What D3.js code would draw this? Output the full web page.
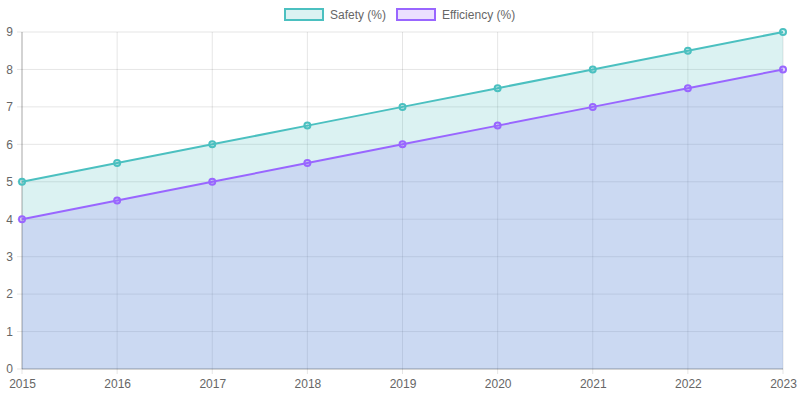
<!DOCTYPE html>
<html>
<head>
<meta charset="utf-8">
<style>
  body { margin: 0; background: #fff; }
  svg { display: block; font-family: 'Liberation Sans', Arial, sans-serif; }
  .tick text { fill: #666; font-size: 12px; }
</style>
</head>
<body>
<svg width="800" height="400"></svg>
<script src="https://d3js.org/d3.v7.min.js"></script>
<script>
// data
const years = [2015, 2016, 2017, 2018, 2019, 2020, 2021, 2022, 2023];
const safety = [5, 5.5, 6, 6.5, 7, 7.5, 8, 8.5, 9];
const efficiency = [4, 4.5, 5, 5.5, 6, 6.5, 7, 7.5, 8];
const yTicks = [0, 1, 2, 3, 4, 5, 6, 7, 8, 9];

const series = [
  { name: "Safety (%)", values: safety, line: "rgb(75,192,192)", fill: "rgba(75,192,192,0.2)" },
  { name: "Efficiency (%)", values: efficiency, line: "rgb(153,102,255)", fill: "rgba(153,102,255,0.2)" }
];

const width = 800, height = 400;
const margin = { top: 32, right: 17, bottom: 31, left: 22 };

const svg = d3.select("svg");

const x = d3.scalePoint()
  .domain(years)
  .range([margin.left, width - margin.right]);

const y = d3.scaleLinear()
  .domain([0, 9])
  .range([height - margin.bottom, margin.top]);

// grid
svg.append("g")
  .selectAll("line.hg")
  .data(yTicks)
  .join("line")
  .attr("x1", margin.left - 5)
  .attr("x2", width - margin.right)
  .attr("y1", d => y(d))
  .attr("y2", d => y(d))
  .style("stroke", "rgba(0,0,0,0.1)");

svg.append("g")
  .selectAll("line.vg")
  .data(years)
  .join("line")
  .attr("x1", d => x(d))
  .attr("x2", d => x(d))
  .attr("y1", margin.top)
  .attr("y2", height - margin.bottom + 5)
  .style("stroke", "rgba(0,0,0,0.1)");

// areas (last series drawn first, like chart.js)
let area = d3.area()
  .x((d, i) => x(years[i]))
  .y0(y(0))
  .y1(d => y(d));

let line = d3.line()
  .x((d, i) => x(years[i]))
  .y(d => y(d));

series.slice().reverse().forEach(s => {
  svg.append("path")
    .attr("d", area(s.values))
    .style("fill", s.fill);
});

// axis lines
svg.append("line")
  .attr("x1", margin.left).attr("x2", margin.left)
  .attr("y1", margin.top).attr("y2", height - margin.bottom)
  .style("stroke", "rgba(0,0,0,0.25)");
svg.append("line")
  .attr("x1", margin.left).attr("x2", width - margin.right)
  .attr("y1", height - margin.bottom).attr("y2", height - margin.bottom)
  .style("stroke", "rgba(0,0,0,0.25)");

// lines and points
series.forEach(s => {
  svg.append("path")
    .attr("d", line(s.values))
    .style("fill", "none")
    .style("stroke", s.line)
    .style("stroke-width", 2);

  svg.append("g")
    .selectAll("circle")
    .data(s.values)
    .join("circle")
    .attr("cx", (d, i) => x(years[i]))
    .attr("cy", d => y(d))
    .attr("r", 3)
    .style("fill", s.fill)
    .style("stroke", s.line)
    .style("stroke-width", 2);
});

// axes labels
let yAxis = svg.append("g")
  .attr("transform", "translate(" + (margin.left - 9) + ",0)")
  .call(d3.axisLeft(y).tickValues(yTicks).tickSize(0).tickPadding(0));
yAxis.select(".domain").remove();

let xAxis = svg.append("g")
  .attr("transform", "translate(0," + (height - margin.bottom + 8) + ")")
  .call(d3.axisBottom(x).tickSize(0).tickPadding(0).tickFormat(d3.format("d")));
xAxis.select(".domain").remove();
xAxis.selectAll("text").attr("dy", "0.95em");

// legend
let legend = svg.append("g");
let lx = [284, 396];
series.forEach((s, i) => {
  legend.append("rect")
    .attr("x", lx[i] + 1)
    .attr("y", 9)
    .attr("width", 38)
    .attr("height", 11)
    .style("fill", s.fill)
    .style("stroke", s.line)
    .style("stroke-width", 2);
  legend.append("text")
    .attr("x", lx[i] + 46)
    .attr("y", 19)
    .style("fill", "#666")
    .style("font-size", "12px")
    .text(s.name);
});
</script>
</body>
</html>
